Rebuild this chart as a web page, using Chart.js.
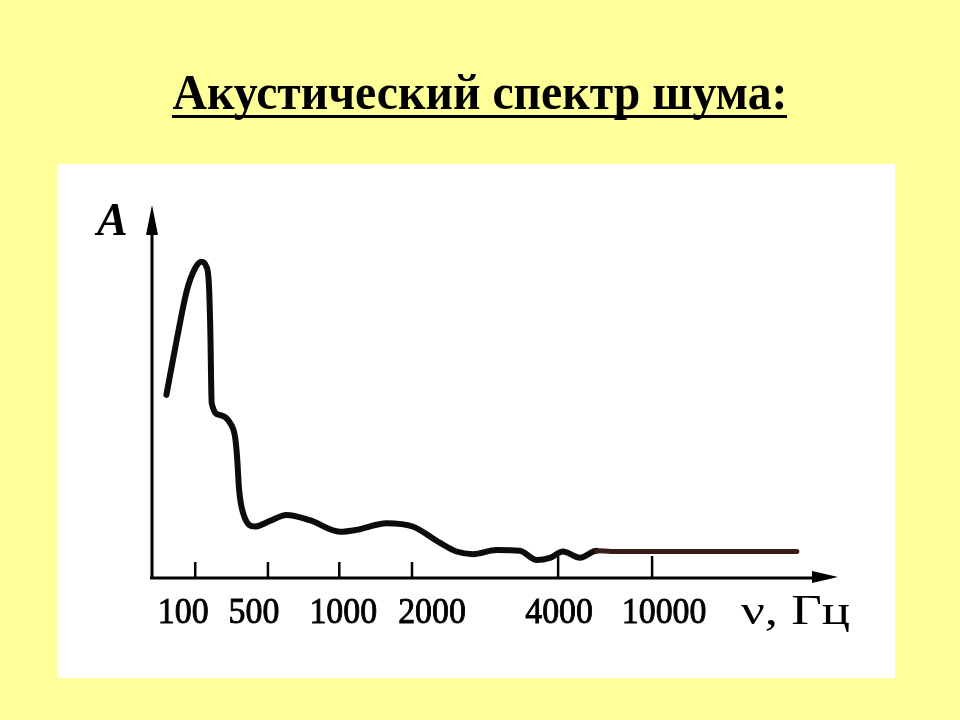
<!DOCTYPE html>
<html>
<head>
<meta charset="utf-8">
<script src="https://cdn.jsdelivr.net/npm/chart.js@4"></script>
<style>
  html, body { margin: 0; padding: 0; background: #ffff99; }
  #wrap { width: 960px; height: 720px; }
</style>
</head>
<body>
<div id="wrap"><canvas id="chart" width="960" height="720"></canvas></div>
<script>
// Axis position units: 0..100 along the frequency axis, amplitude 0..100
const tickLabels = ["100", "500", "1000", "2000", "4000", "10000"];
const tickPos = [6.3, 16.9, 27.3, 37.9, 59.2, 72.9];

const curveX = [2.1, 3.6, 5.1, 6.3, 7.2, 7.9, 8.3, 8.5, 8.7, 9.9, 11.4, 12.1, 12.4, 12.7, 13.3, 15.0, 17.2, 19.6, 23.0, 27.4, 29.8, 34.2, 38.0, 42.0, 44.4, 46.8, 50.2, 53.6, 56.1, 58.0, 59.9, 62.4, 64.8, 68.2, 94.0];
const curveY = [49.1, 63.8, 77.2, 83.1, 84.8, 83.6, 78.6, 66.5, 46.9, 43.7, 41.5, 37.9, 32.5, 23.6, 17.3, 13.8, 15.3, 16.9, 15.5, 12.4, 12.9, 14.7, 13.8, 9.4, 7.1, 6.4, 7.5, 7.3, 4.8, 5.4, 7.1, 5.4, 7.3, 7.1, 7.1];

const title = "Акустический спектр шума:";
const yAxisTitle = "A";
const xAxisTitle = "ν, Гц";

const points = curveX.map((x, i) => ({ x: x, y: curveY[i] }));

const serif = "'Liberation Serif', 'Times New Roman', serif";

// text squeezed horizontally, with a thin stroke so it looks like the scan
function drawText(ctx, text, x, y, sx, stroke) {
  ctx.save();
  ctx.translate(x, y);
  ctx.scale(sx, 1);
  ctx.fillText(text, 0, 0);
  if (stroke) {
    ctx.lineWidth = stroke;
    ctx.strokeText(text, 0, 0);
  }
  ctx.restore();
}

// draws the slide: background, white card, title, hand-drawn style axes
const slidePlugin = {
  id: "slide",
  beforeDraw(chart) {
    const ctx = chart.ctx;
    ctx.save();
    ctx.fillStyle = "#ffff99";
    ctx.fillRect(0, 0, chart.width, chart.height);
    ctx.fillStyle = "#ffffff";
    ctx.fillRect(57, 164, 838, 514);

    // title, underlined
    ctx.fillStyle = "#000";
    ctx.font = "bold 50px " + serif;
    ctx.textAlign = "center";
    ctx.textBaseline = "alphabetic";
    const w = ctx.measureText(title).width;
    drawText(ctx, title, 480, 109, 615 / w, 0);
    ctx.fillRect(172, 115, 615, 3);
    ctx.restore();
  },
  afterDatasetsDraw(chart) {
    const ctx = chart.ctx;
    const xs = chart.scales.x;
    const ys = chart.scales.y;
    const x0 = xs.getPixelForValue(0);
    const y0 = ys.getPixelForValue(0);
    const xEnd = xs.getPixelForValue(100);
    const yEnd = ys.getPixelForValue(100);
    ctx.save();
    ctx.strokeStyle = "#000";
    ctx.fillStyle = "#000";
    ctx.lineCap = "butt";

    // y axis + arrow
    ctx.lineWidth = 3;
    ctx.beginPath();
    ctx.moveTo(x0, y0 + 1);
    ctx.lineTo(x0, yEnd + 25);
    ctx.stroke();
    ctx.beginPath();
    ctx.moveTo(x0, yEnd);
    ctx.lineTo(x0 - 6, yEnd + 30);
    ctx.lineTo(x0 + 6, yEnd + 30);
    ctx.closePath();
    ctx.fill();

    // x axis + arrow
    ctx.beginPath();
    ctx.moveTo(x0 - 2, y0);
    ctx.lineTo(xEnd - 22, y0);
    ctx.stroke();
    ctx.beginPath();
    ctx.moveTo(xEnd, y0 - 1);
    ctx.lineTo(xEnd - 26, y0 - 7);
    ctx.lineTo(xEnd - 26, y0 + 5);
    ctx.closePath();
    ctx.fill();

    // ticks and labels
    ctx.lineWidth = 2.5;
    const labelShift = [-12, -14, 4, 20, 1, 12];
    ctx.font = "36px " + serif;
    ctx.textAlign = "center";
    ctx.textBaseline = "alphabetic";
    tickPos.forEach((p, i) => {
      const px = xs.getPixelForValue(p);
      ctx.beginPath();
      ctx.moveTo(px, y0);
      ctx.lineTo(px, y0 - (i >= 4 ? 22 : 16));
      ctx.stroke();
      drawText(ctx, tickLabels[i], px + labelShift[i], 623, 0.94, 0.9);
    });

    // axis titles
    ctx.textAlign = "left";
    ctx.font = "42px " + serif;
    const tw = ctx.measureText(xAxisTitle).width;
    drawText(ctx, xAxisTitle, 741, 624, 109 / tw, 0);
    ctx.font = "italic bold 46px " + serif;
    ctx.fillText(yAxisTitle, 97, 235);
    ctx.restore();
  }
};

new Chart(document.getElementById("chart"), {
  type: "line",
  data: {
    datasets: [{
      data: points,
      borderColor: "#0c0c0c",
      borderWidth: 6,
      pointRadius: 0,
      fill: false,
      cubicInterpolationMode: "monotone",
      borderCapStyle: "round",
      borderJoinStyle: "round",
      segment: {
        borderColor: (c) => c.p0.parsed.x >= 64 ? "#3a1c16" : undefined,
        borderWidth: (c) => c.p0.parsed.x >= 64 ? 5 : undefined
      }
    }]
  },
  options: {
    responsive: false,
    animation: false,
    layout: { padding: { left: 152, right: 122, top: 205, bottom: 142 } },
    plugins: {
      legend: { display: false },
      tooltip: { enabled: false },
      title: { display: false }
    },
    scales: {
      x: { type: "linear", min: 0, max: 100, display: false },
      y: { type: "linear", min: 0, max: 100, display: false }
    }
  },
  plugins: [slidePlugin]
});
</script>
</body>
</html>
